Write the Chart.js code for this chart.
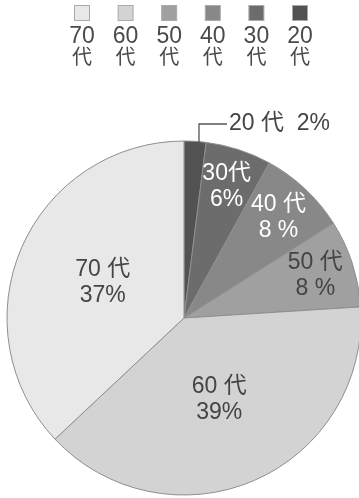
<!DOCTYPE html>
<html>
<head>
<meta charset="utf-8">
<script src="https://cdn.jsdelivr.net/npm/chart.js@4.4.1/dist/chart.umd.min.js"></script>
<style>
  html, body { margin: 0; padding: 0; background: #fff; overflow: hidden; }
  #c { display: block; }
</style>
</head>
<body>
<canvas id="c" width="359" height="498"></canvas>
<script>
// slices clockwise from 12 o'clock
const ages = ['20 代', '30代', '40 代', '50 代', '60 代', '70 代'];
const legendAges = ['70', '60', '50', '40', '30', '20'];
const shares = [2, 6, 8, 8, 39, 37];
const pctText = ['2%', '6%', '8 %', '8 %', '39%', '37%'];
const fills = ['#525252', '#6c6c6c', '#888888', '#a0a0a0', '#d3d3d3', '#e8e8e8'];

const FONT = '"Liberation Sans Narrow", "Liberation Sans", "Noto Sans CJK JP", sans-serif';
const TEXT = '#444';

const legendPlugin = {
    id: 'topLegend',
    afterDraw(chart) {
        const ctx = chart.ctx;
        ctx.save();
        legendAges.forEach((a, i) => {
            const idx = fills.length - 1 - i;
            const cx = 82 + i * 43.6;
            ctx.fillStyle = fills[idx];
            ctx.fillRect(cx - 7.5, 5, 15, 15);
            ctx.strokeStyle = '#aaa';
            ctx.lineWidth = 1;
            ctx.strokeRect(cx - 7.5, 5.5, 15, 15);
            ctx.fillStyle = '#4a4a4a';
            ctx.textAlign = 'center';
            ctx.textBaseline = 'middle';
            ctx.font = '23px ' + FONT;
            ctx.fillText(a, cx, 37);
            ctx.font = '20px ' + FONT;
            ctx.fillText('代', cx, 58);
        });
        ctx.restore();
    }
};

const sliceLabels = {
    id: 'sliceLabels',
    afterDraw(chart) {
        const ctx = chart.ctx;
        const arcs = chart.getDatasetMeta(0).data;
        ctx.save();
        ctx.font = '23px ' + FONT;
        ctx.textBaseline = 'middle';
        arcs.forEach((arc, i) => {
            const R = arc.outerRadius;
            if (shares[i] < 4) {
                // small slice: leader line up and out
                const a = arc.startAngle + (arc.endAngle - arc.startAngle) * 0.75;
                const x0 = arc.x + Math.cos(a) * R * 0.9;
                const y0 = arc.y + Math.sin(a) * R * 0.9;
                const yTop = arc.y - R - 17;
                ctx.strokeStyle = '#555';
                ctx.lineWidth = 1.3;
                ctx.beginPath();
                ctx.moveTo(x0, y0);
                ctx.lineTo(x0, yTop);
                ctx.lineTo(x0 + 28, yTop);
                ctx.stroke();
                ctx.fillStyle = TEXT;
                ctx.textAlign = 'left';
                ctx.fillText(ages[i] + '  ' + pctText[i], x0 + 30, yTop);
                return;
            }
            const mid = (arc.startAngle + arc.endAngle) / 2;
            const f = shares[i] > 20 ? 0.5 : 0.78;
            const x = arc.x + Math.cos(mid) * R * f;
            const y = arc.y + Math.sin(mid) * R * f;
            const shade = parseInt(fills[i].slice(1, 3), 16);
            ctx.fillStyle = shade < 0x90 ? '#ffffff' : TEXT;
            ctx.textAlign = 'center';
            ctx.fillText(ages[i], x, y - 13);
            ctx.fillText(pctText[i], x, y + 13);
        });
        ctx.restore();
    }
};

new Chart(document.getElementById('c'), {
    type: 'pie',
    data: {
        labels: ages,
        datasets: [{
            data: shares,
            backgroundColor: fills,
            borderColor: '#8e8e8e',
            borderWidth: 1
        }]
    },
    options: {
        responsive: false,
        animation: false,
        radius: 177,
        layout: { padding: { left: 9, right: 0, top: 140, bottom: 2 } },
        plugins: {
            legend: { display: false },
            tooltip: { enabled: false }
        }
    },
    plugins: [legendPlugin, sliceLabels]
});
</script>
</body>
</html>
